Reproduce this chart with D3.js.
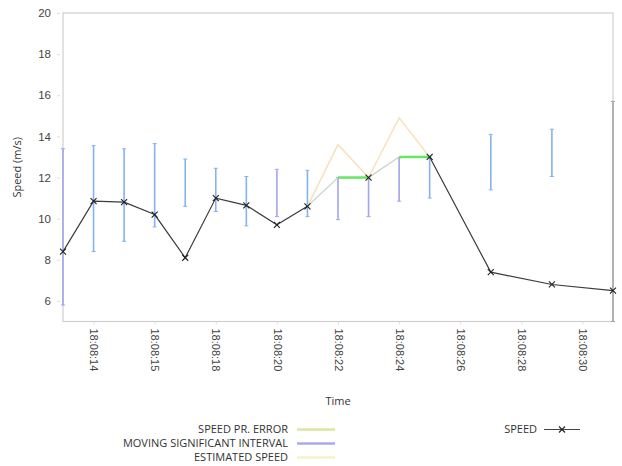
<!DOCTYPE html>
<html>
<head>
<meta charset="utf-8">
<script src="https://cdn.jsdelivr.net/npm/d3@7"></script>
<style>
  html, body { margin: 0; padding: 0; background: #fff; }
  svg { display: block; font-family: "Open Sans", "DejaVu Sans", sans-serif; }
</style>
</head>
<body>
<svg id="chart" width="622" height="466"></svg>
<script>
// ---- data ----
const tickIdx = [1, 3, 5, 7, 9, 11, 13, 15, 17];
const tickLabels = ["18:08:14", "18:08:15", "18:08:18", "18:08:20", "18:08:22", "18:08:24", "18:08:26", "18:08:28", "18:08:30"];
const yTicks = [6, 8, 10, 12, 14, 16, 18, 20];

const speedIdx = [0, 1, 2, 3, 4, 5, 6, 7, 8, 10, 12, 14, 16, 18];
const speedVal = [8.4, 10.85, 10.8, 10.2, 8.1, 11.0, 10.65, 9.7, 10.6, 12.0, 13.0, 7.4, 6.8, 6.5];

const intIdx  = [0, 1, 2, 3, 4, 5, 6, 7, 8, 9, 10, 11, 12, 14, 16, 18];
const intLow  = [5.8, 8.4, 8.9, 9.6, 10.6, 10.35, 9.65, 10.1, 10.1, 9.95, 10.1, 10.85, 11.0, 11.4, 12.05, 5.0];
const intHigh = [13.4, 13.55, 13.4, 13.65, 12.9, 12.45, 12.05, 12.4, 12.35, 12.0, 12.0, 12.95, 13.0, 14.1, 14.35, 15.7];

const errIdx = [8, 9, 10, 11, 12];
const errVal = [10.6, 13.6, 12.0, 14.9, 13.0];

const estIdx = [8, 9, 10, 11, 12];
const estVal = [10.6, 12.0, 12.0, 13.0, 13.0];

const legendLeft = ["SPEED PR. ERROR", "MOVING SIGNIFICANT INTERVAL", "ESTIMATED SPEED"];
const legendRight = ["SPEED"];

// ---- styles ----
const purpleBars = new Set([0, 7, 9, 10, 11]);
const colBar = "#84b3ef", colBarP = "#a4a4ec", colBarEdge = "#a6a6aa";
const legendCols = ["#dde6a0", "#a9a9f2", "#f6f3c6"];

// ---- layout ----
const svg = d3.select("#chart");
const L = 63, R = 613, T = 13, B = 321.5;
const x = d3.scaleLinear().domain([0, 18]).range([L, R]);
const y = d3.scaleLinear().domain([5, 20]).range([B, T]);

// frame
svg.append("rect").attr("x", L).attr("y", T).attr("width", R - L).attr("height", B - T)
  .attr("fill", "none").attr("stroke", "#cfcfcf").attr("stroke-width", 1.2);

// y axis
const yAxis = d3.axisLeft(y).tickValues(yTicks).tickSize(3).tickPadding(6).tickFormat(d3.format("d"));
const gy = svg.append("g").attr("transform", `translate(${L - 3},0)`).call(yAxis);
gy.select(".domain").remove();
gy.selectAll(".tick line").attr("stroke", "#ddd");
gy.selectAll("text").attr("fill", "#444").style("font-size", "11.5px");

// x axis
const xAxis = d3.axisBottom(x).tickValues(tickIdx).tickSize(3).tickFormat((d, i) => tickLabels[i]);
const gx = svg.append("g").attr("transform", `translate(0,${B})`).call(xAxis);
gx.select(".domain").remove();
gx.selectAll(".tick line").attr("stroke", "#ddd");
gx.selectAll("text").attr("fill", "#444").style("font-size", "11px")
  .attr("text-anchor", "start").attr("dy", "0.35em")
  .attr("transform", "translate(0,7) rotate(90)").attr("x", 0).attr("y", 0);

// axis titles
svg.append("text").attr("transform", `translate(21,${(T + B) / 2}) rotate(-90)`)
  .attr("text-anchor", "middle").attr("fill", "#333").style("font-size", "11px").text("Speed (m/s)");
svg.append("text").attr("x", (L + R) / 2).attr("y", 405).attr("text-anchor", "middle")
  .attr("fill", "#333").style("font-size", "11px").text("Time");

// intervals
const intData = intIdx.map((d, i) => ({ i: d, lo: intLow[i], hi: intHigh[i] }));
const gi = svg.append("g");
intData.forEach(d => {
  const c = d.i === 18 ? colBarEdge : (purpleBars.has(d.i) ? colBarP : colBar);
  const lo = Math.max(d.lo, 5), hi = Math.min(d.hi, 20);
  gi.append("line").attr("x1", x(d.i)).attr("x2", x(d.i)).attr("y1", y(lo)).attr("y2", y(hi))
    .attr("stroke", c).attr("stroke-width", 1.6);
  [lo, hi].forEach(v => gi.append("line").attr("x1", x(d.i) - 2).attr("x2", x(d.i) + 2)
    .attr("y1", y(v)).attr("y2", y(v)).attr("stroke", c).attr("stroke-width", 1));
});

// speed pr. error (orange/yellow)
const errData = errIdx.map((d, i) => ({ i: d, v: errVal[i] }));
const line = d3.line().x(d => x(d.i)).y(d => y(d.v));
svg.append("path").datum(errData).attr("d", line).attr("fill", "none")
  .attr("stroke", "#f4cf8c").attr("stroke-width", 1.5).attr("opacity", 0.6);

// estimated speed
const estData = estIdx.map((d, i) => ({ i: d, v: estVal[i] }));
svg.append("path").datum(estData).attr("d", line).attr("fill", "none")
  .attr("stroke", "#cdd4c8").attr("stroke-width", 1.3);
for (let k = 1; k < estData.length; k++) {
  if (estData[k].v === estData[k - 1].v) {
    svg.append("path").datum([estData[k - 1], estData[k]]).attr("d", line).attr("fill", "none")
      .attr("stroke", "#62e862").attr("stroke-width", 2.5);
  }
}

// speed (line hidden inside the estimate window)
const spData = speedIdx.map((d, i) => ({ i: d, v: speedVal[i] }));
const estMin = d3.min(estIdx), estMax = d3.max(estIdx);
const before = spData.filter(d => d.i <= estMin), after = spData.filter(d => d.i >= estMax);
svg.append("path").datum(before).attr("d", line).attr("fill", "none").attr("stroke", "#3c3c3c").attr("stroke-width", 1.2);
svg.append("path").datum(after).attr("d", line).attr("fill", "none").attr("stroke", "#3c3c3c").attr("stroke-width", 1.2);

const s = 3;
function cross(g, cx, cy) {
  g.append("path").attr("d", `M${cx - s},${cy - s}L${cx + s},${cy + s}M${cx - s},${cy + s}L${cx + s},${cy - s}`)
    .attr("stroke", "#222").attr("stroke-width", 1.1).attr("fill", "none");
}
const gm = svg.append("g");
spData.forEach(d => cross(gm, x(d.i), y(d.v)));

// legend
const lg = svg.append("g").style("font-size", "11px").attr("fill", "#333");
legendLeft.forEach((t, k) => {
  const yy = 429.5 + k * 14;
  lg.append("text").attr("x", 288).attr("y", yy).attr("dy", "0.35em").attr("text-anchor", "end").text(t);
  lg.append("line").attr("x1", 297).attr("x2", 335).attr("y1", yy).attr("y2", yy)
    .attr("stroke", legendCols[k]).attr("stroke-width", 2.5);
});
legendRight.forEach((t, k) => {
  const yy = 429.5 + k * 14;
  lg.append("text").attr("x", 537).attr("y", yy).attr("dy", "0.35em").attr("text-anchor", "end").text(t);
  lg.append("line").attr("x1", 544).attr("x2", 580).attr("y1", yy).attr("y2", yy)
    .attr("stroke", "#444").attr("stroke-width", 1.1);
  cross(lg, 562, yy);
});
</script>
</body>
</html>
